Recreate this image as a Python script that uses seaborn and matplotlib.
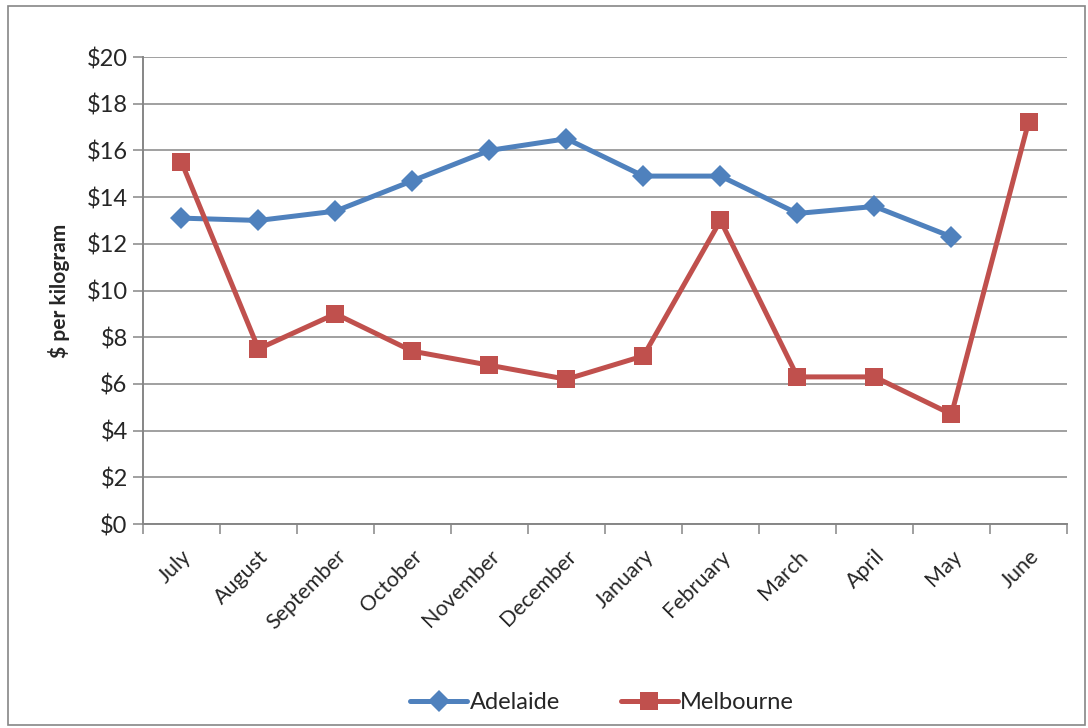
import pandas as pd
import numpy as np
import matplotlib
matplotlib.use('Agg')
import matplotlib.pyplot as plt
import seaborn as sns
from matplotlib.patches import Rectangle

months = ['July', 'August', 'September', 'October', 'November', 'December',
          'January', 'February', 'March', 'April', 'May', 'June']
adelaide = [13.1, 13.0, 13.4, 14.7, 16.0, 16.5, 14.9, 14.9, 13.3, 13.6, 12.3, np.nan]
melbourne = [15.5, 7.5, 9.0, 7.4, 6.8, 6.2, 7.2, 13.0, 6.3, 6.3, 4.7, 17.2]
yticks = [0, 2, 4, 6, 8, 10, 12, 14, 16, 18, 20]

sns.set_style('white')
plt.rcParams['font.family'] = ['Lato', 'DejaVu Sans']

df = pd.DataFrame({'pos': np.arange(len(months)), 'Adelaide': adelaide, 'Melbourne': melbourne})

fig = plt.figure(figsize=(10.88, 7.28), dpi=100)
ax = fig.add_axes([0.1314, 0.2802, 0.8493, 0.6415])

sns.lineplot(data=df, x='pos', y='Adelaide', ax=ax, color='#4F81BD', linewidth=3.6,
             marker='D', markersize=11, markeredgewidth=0, label='Adelaide')
sns.lineplot(data=df, x='pos', y='Melbourne', ax=ax, color='#C0504D', linewidth=3.6,
             marker='s', markersize=13, markeredgewidth=0, label='Melbourne')

ax.set_xlim(-0.5, 11.5)
ax.set_ylim(0, 20)
ax.set_yticks(yticks)
ax.set_yticklabels(['$' + str(v) for v in yticks], fontsize=17)
ax.yaxis.grid(True, color='#868686', linewidth=1.1)
ax.set_axisbelow(True)

ax.set_xticks(np.arange(len(months)))
ax.set_xticklabels(months, rotation=45, ha='right', rotation_mode='anchor', fontsize=15.5)
ax.set_xticks(np.arange(-0.5, 12, 1), minor=True)
ax.tick_params(axis='x', which='major', length=0, pad=16)
ax.tick_params(axis='x', which='minor', length=7, color='#868686', width=1.1, direction='out')
ax.tick_params(axis='y', length=7, color='#868686', width=1.1, direction='out', pad=4)
ax.xaxis.set_ticks_position('bottom')
ax.yaxis.set_ticks_position('left')

for side in ['top', 'right']:
    ax.spines[side].set_visible(False)
for side in ['left', 'bottom']:
    ax.spines[side].set_color('#868686')
    ax.spines[side].set_linewidth(1.4)

ax.set_xlabel('')
ax.set_ylabel('$ per kilogram', fontsize=15, fontweight='bold', labelpad=12)

ax.legend(loc='center', bbox_to_anchor=(0.497, -0.383), ncol=2, frameon=False,
          fontsize=17, handlelength=2.4, columnspacing=2.6, handletextpad=0.1)

fig.patches.append(Rectangle((0.007, 0.004), 0.990, 0.988, transform=fig.transFigure,
                             fill=False, edgecolor='#868686', linewidth=1.2))

fig.savefig('out.png', dpi=100)
